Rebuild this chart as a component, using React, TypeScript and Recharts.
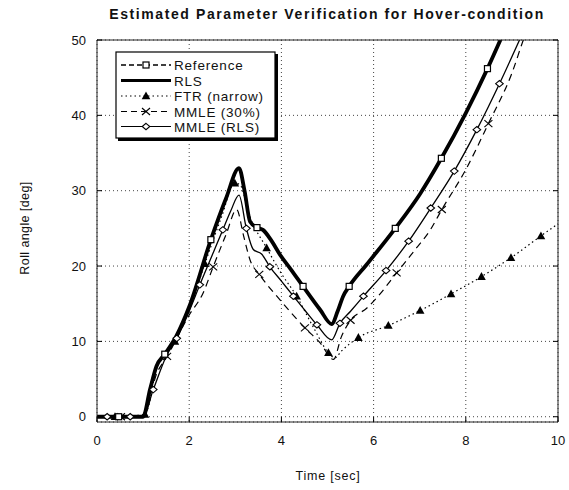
import React from 'react';
import { LineChart, Line, XAxis, YAxis, CartesianGrid } from 'recharts';

const W = 569;
const H = 490;
const FONT = '"Liberation Sans", Arial, Helvetica, sans-serif';

// Axis ticks
const xTicks = [0, 2, 4, 6, 8, 10];
const yTicks = [0, 10, 20, 30, 40, 50];

// Reference (dashed, open squares)
const refT = [0, 0.47, 1.0, 1.15, 1.29, 1.47, 1.72, 2.0, 2.47, 2.8, 3.08, 3.2, 3.32, 3.47, 3.6, 3.79, 3.97, 4.2, 4.47, 4.84, 5.09, 5.22, 5.34, 5.47, 5.85, 6.47, 7.0, 7.47, 8.0, 8.47, 8.75, 9.0];
const refY = [0, 0, 0, 3.6, 6.7, 8.3, 10.7, 14.6, 23.5, 29.0, 33.0, 30.0, 25.9, 25.1, 24.8, 23.3, 21.5, 19.6, 17.3, 14.2, 12.3, 14.0, 16.0, 17.3, 20.2, 25.0, 29.5, 34.3, 40.3, 46.2, 50.0, 53.5];
const refMarks = [0.47, 1.47, 2.47, 3.47, 4.47, 5.47, 6.47, 7.47, 8.47];

// RLS (thick solid)
const rlsT = [0, 1.0, 1.15, 1.29, 1.47, 1.72, 2.0, 2.47, 2.8, 3.08, 3.2, 3.32, 3.47, 3.6, 3.79, 3.97, 4.2, 4.47, 4.84, 5.09, 5.22, 5.34, 5.47, 5.85, 6.47, 7.0, 7.47, 8.0, 8.47, 8.75, 9.0];
const rlsY = [0, 0, 3.6, 6.7, 8.3, 10.7, 14.6, 23.5, 29.0, 33.0, 30.0, 25.9, 25.1, 24.8, 23.3, 21.5, 19.6, 17.3, 14.2, 12.3, 14.0, 16.0, 17.3, 20.2, 25.0, 29.5, 34.3, 40.3, 46.2, 50.0, 53.5];

// FTR (narrow) (dotted, filled triangles)
const ftrT = [0, 0.39, 1.04, 1.3, 1.69, 2.0, 2.34, 2.7, 2.99, 3.1, 3.3, 3.68, 4.0, 4.33, 4.7, 5.02, 5.16, 5.3, 5.67, 6.32, 7.01, 7.68, 8.34, 8.98, 9.63, 10];
const ftrY = [0, 0, 0.3, 6.5, 10.0, 14.3, 20.3, 26.5, 31.0, 30.8, 26.8, 22.4, 19.0, 16.0, 11.8, 8.5, 7.8, 8.7, 10.5, 12.1, 14.1, 16.3, 18.6, 21.1, 24.0, 25.6];
const ftrMarks = [0.39, 1.04, 1.69, 2.34, 2.99, 3.68, 4.33, 5.02, 5.67, 6.32, 7.01, 7.68, 8.34, 8.98, 9.63];

// MMLE (30%) (dashed, x markers)
const m30T = [0, 0.52, 1.0, 1.3, 1.52, 2.0, 2.3, 2.52, 2.8, 3.03, 3.18, 3.32, 3.52, 3.97, 4.51, 4.84, 5.13, 5.3, 5.5, 5.85, 6.07, 6.5, 6.93, 7.23, 7.48, 8.0, 8.49, 9.0, 9.26, 9.5];
const m30Y = [0, 0, 0, 5.8, 8.0, 13.5, 16.4, 19.9, 24.2, 27.5, 24.0, 20.8, 18.9, 15.5, 11.8, 9.8, 7.6, 10.6, 12.8, 14.4, 15.8, 19.1, 22.4, 24.8, 27.5, 32.8, 38.9, 45.6, 50.2, 53.8];
const m30Marks = [0.52, 1.52, 2.52, 3.52, 4.51, 5.5, 6.5, 7.48, 8.49];

// MMLE (RLS) (thin solid, open diamonds)
const mrT = [0, 0.22, 0.72, 1.0, 1.22, 1.5, 1.73, 2.0, 2.23, 2.73, 2.9, 3.08, 3.24, 3.39, 3.57, 3.75, 4.0, 4.26, 4.5, 4.77, 5.09, 5.27, 5.5, 5.78, 6.27, 6.76, 7.24, 7.75, 8.24, 8.73, 9.18, 9.4];
const mrY = [0, 0, 0, 0, 3.6, 8.0, 10.4, 14.0, 17.5, 24.8, 27.3, 29.4, 25.0, 22.2, 21.6, 19.9, 18.0, 16.0, 14.2, 12.2, 10.2, 12.4, 14.0, 16.0, 19.4, 23.3, 27.7, 32.6, 38.1, 44.2, 50.2, 53.2];
const mrMarks = [0.22, 0.72, 1.22, 1.73, 2.23, 2.73, 3.24, 3.75, 4.26, 4.77, 5.27, 5.78, 6.27, 6.76, 7.24, 7.75, 8.24, 8.73];

const legendNames = ['Reference', 'RLS', 'FTR (narrow)', 'MMLE (30%)', 'MMLE (RLS)'];

type Pt = { t: number; y: number; m: boolean };
const build = (ts: number[], ys: number[], marks: number[] = []): Pt[] =>
  ts.map((t, i) => ({ t, y: ys[i], m: marks.includes(t) }));

const refData = build(refT, refY, refMarks);
const rlsData = build(rlsT, rlsY);
const ftrData = build(ftrT, ftrY, ftrMarks);
const m30Data = build(m30T, m30Y, m30Marks);
const mrData = build(mrT, mrY, mrMarks);

type Shape = 'square' | 'triangle' | 'x' | 'diamond';

const Marker = ({ shape, cx, cy }: { shape: Shape; cx: number; cy: number }) => {
  if (shape === 'square')
    return <rect x={cx - 3} y={cy - 3} width={6} height={6} fill="#fff" stroke="#000" strokeWidth={1.2} />;
  if (shape === 'triangle')
    return <polygon points={`${cx},${cy - 4.5} ${cx - 4.3},${cy + 3.3} ${cx + 4.3},${cy + 3.3}`} fill="#000" />;
  if (shape === 'x')
    return (
      <g stroke="#000" strokeWidth={1.1}>
        <line x1={cx - 4} y1={cy - 3.5} x2={cx + 4} y2={cy + 3.5} />
        <line x1={cx - 4} y1={cy + 3.5} x2={cx + 4} y2={cy - 3.5} />
      </g>
    );
  return <polygon points={`${cx},${cy - 3.2} ${cx + 3.8},${cy} ${cx},${cy + 3.2} ${cx - 3.8},${cy}`} fill="#fff" stroke="#000" strokeWidth={1.1} />;
};

const makeDot = (shape: Shape) => (props: any) => {
  const { cx, cy, payload, index } = props;
  if (!payload || !payload.m || cx == null || cy == null) return <g key={`d${index}`} />;
  return (
    <g key={`d${index}`}>
      <Marker shape={shape} cx={cx} cy={cy} />
    </g>
  );
};

const YTickLeft = (p: any) => (
  <g>
    <line x1={p.x} y1={p.y} x2={p.x + 5} y2={p.y} stroke="#000" strokeWidth={1} />
    <text x={p.x - 11} y={p.y + 4.5} textAnchor="end" fontSize={13} fontFamily={FONT} fill="#111">
      {p.payload.value}
    </text>
  </g>
);
const YTickRight = (p: any) => (
  <line x1={p.x} y1={p.y} x2={p.x - 5} y2={p.y} stroke="#000" strokeWidth={1} />
);
const XTickBottom = (p: any) => (
  <g>
    <line x1={p.x} y1={p.y} x2={p.x} y2={p.y - 5} stroke="#000" strokeWidth={1} />
    <text x={p.x} y={p.y + 23} textAnchor="middle" fontSize={13} fontFamily={FONT} fill="#111">
      {p.payload.value}
    </text>
  </g>
);
const XTickTop = (p: any) => (
  <line x1={p.x} y1={p.y} x2={p.x} y2={p.y + 5} stroke="#000" strokeWidth={1} />
);

const legendStyles: { dash?: string; width: number; shape?: Shape }[] = [
  { dash: '5 3', width: 1.6, shape: 'square' },
  { width: 2.8 },
  { dash: '1.5 3', width: 1.1, shape: 'triangle' },
  { dash: '6 4', width: 1.1, shape: 'x' },
  { width: 1.1, shape: 'diamond' },
];

const Overlay = () => {
  const rowY = [65, 80.5, 96, 111.5, 126.5];
  return (
    <svg width={W} height={H} style={{ position: 'absolute', left: 0, top: 0, pointerEvents: 'none' }}>
      <text x={327} y={19} textAnchor="middle" fontSize={14} fontWeight="bold" letterSpacing={1.6} fontFamily={FONT} fill="#111">
        Estimated Parameter Verification for Hover-condition
      </text>
      <text x={328} y={480} textAnchor="middle" fontSize={12.5} letterSpacing={0.8} fontFamily={FONT} fill="#111">
        Time [sec]
      </text>
      <text
        x={0}
        y={0}
        transform="translate(29,228) rotate(-90)"
        textAnchor="middle"
        fontSize={12.5}
        letterSpacing={0.4}
        fontFamily={FONT}
        fill="#111"
      >
        Roll angle [deg]
      </text>
      {/* legend */}
      <rect x={118} y={54} width={160} height={87} fill="#000" />
      <rect x={116} y={52} width={159} height={86} fill="#fff" stroke="#000" strokeWidth={1.2} />
      {legendNames.map((name, i) => {
        const s = legendStyles[i];
        const y = rowY[i];
        return (
          <g key={name}>
            <line x1={121} y1={y} x2={171} y2={y} stroke="#000" strokeWidth={s.width} strokeDasharray={s.dash} />
            {s.shape && <Marker shape={s.shape} cx={146} cy={y} />}
            <text x={174} y={y + 5} fontSize={13.5} letterSpacing={0.8} fontFamily={FONT} fill="#111">
              {name}
            </text>
          </g>
        );
      })}
    </svg>
  );
};

export default function App() {
  return (
    <div style={{ position: 'absolute', left: 0, top: 0, width: W, height: H, background: '#fff' }}>
      <LineChart width={W} height={H} margin={{ top: 0, right: 0, bottom: 0, left: 0 }}>
        <CartesianGrid stroke="#444" strokeDasharray="1 3" strokeWidth={1} />
        <XAxis
          xAxisId={0}
          dataKey="t"
          type="number"
          domain={[0, 10]}
          ticks={xTicks}
          height={68}
          tickSize={0}
          tickMargin={0}
          tick={<XTickBottom />}
          axisLine={{ stroke: '#222' }}
          tickLine={false}
          allowDataOverflow
        />
        <XAxis
          xAxisId="top"
          orientation="top"
          dataKey="t"
          type="number"
          domain={[0, 10]}
          ticks={xTicks}
          height={40}
          tickSize={0}
          tickMargin={0}
          tick={<XTickTop />}
          axisLine={{ stroke: '#222' }}
          tickLine={false}
        />
        <YAxis
          yAxisId={0}
          type="number"
          domain={[-0.7, 50]}
          ticks={yTicks}
          width={97}
          tickSize={0}
          tickMargin={0}
          tick={<YTickLeft />}
          axisLine={{ stroke: '#222' }}
          tickLine={false}
          allowDataOverflow
        />
        <YAxis
          yAxisId="right"
          orientation="right"
          type="number"
          domain={[-0.7, 50]}
          ticks={yTicks}
          width={11}
          tickSize={0}
          tickMargin={0}
          tick={<YTickRight />}
          axisLine={{ stroke: '#222' }}
          tickLine={false}
          allowDataOverflow
        />
        <Line data={ftrData} dataKey="y" type="monotone" stroke="#000" strokeWidth={1.2} strokeDasharray="1.5 3" dot={makeDot('triangle')} activeDot={false} isAnimationActive={false} name="FTR (narrow)" />
        <Line data={m30Data} dataKey="y" type="monotone" stroke="#000" strokeWidth={1.2} strokeDasharray="7 5" dot={makeDot('x')} activeDot={false} isAnimationActive={false} name="MMLE (30%)" />
        <Line data={mrData} dataKey="y" type="monotone" stroke="#000" strokeWidth={1.3} dot={makeDot('diamond')} activeDot={false} isAnimationActive={false} name="MMLE (RLS)" />
        <Line data={rlsData} dataKey="y" type="monotone" stroke="#000" strokeWidth={3.8} dot={false} activeDot={false} isAnimationActive={false} name="RLS" />
        <Line data={refData} dataKey="y" type="monotone" stroke="#000" strokeWidth={2} strokeDasharray="6 3" dot={makeDot('square')} activeDot={false} isAnimationActive={false} name="Reference" />
      </LineChart>
      <Overlay />
    </div>
  );
}
